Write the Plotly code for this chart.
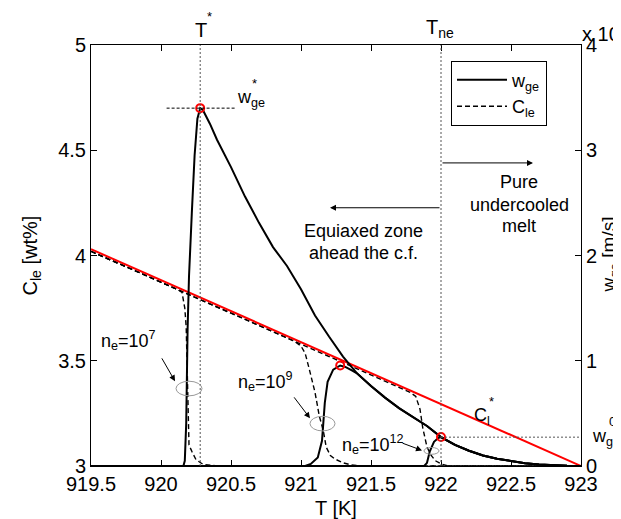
import plotly.graph_objects as go

# ---------------- data ----------------
# temperatures in K ; w_ge values in units of 1e-4 m/s ; C_le in wt%
# shared decay branch of w_ge (envelope)
decay_T = [920.28, 920.30, 920.35, 920.40, 920.50, 920.60, 920.70, 920.80, 920.90,
           921.00, 921.10, 921.20, 921.30, 921.40, 921.50, 921.60, 921.70, 921.80,
           921.90, 922.00, 922.10, 922.20, 922.30, 922.40, 922.50, 922.60, 922.70,
           922.80, 922.90, 923.00]
decay_w = [3.40, 3.38, 3.25, 3.10, 2.84, 2.56, 2.31, 2.08, 1.90,
           1.68, 1.43, 1.23, 1.04, 0.88, 0.76, 0.65, 0.55, 0.465,
           0.38, 0.275, 0.20, 0.145, 0.10, 0.068, 0.044, 0.027, 0.015,
           0.007, 0.002, 0.0]

# n_e = 1e7 : rising branch of w_ge
rise7_T = [919.5, 920.16, 920.17, 920.18, 920.19, 920.20, 920.22, 920.24, 920.26]
rise7_w = [0.0, 0.0, 0.05, 0.40, 1.30, 1.80, 2.40, 2.95, 3.30]
# n_e = 1e9 : rising branch of w_ge (joins envelope at ~921.4)
rise9_T = [919.5, 921.03, 921.07, 921.12, 921.15, 921.16, 921.17, 921.19, 921.23,
           921.28, 921.32, 921.36]
rise9_w = [0.0, 0.0, 0.02, 0.08, 0.24, 0.45, 0.60, 0.80, 0.915,
           0.955, 0.94, 0.91]
# n_e = 1e12 : rising branch of w_ge (joins envelope at T_ne)
rise12_T = [919.5, 921.88, 921.90, 921.92, 921.95, 921.98]
rise12_w = [0.0, 0.0, 0.03, 0.14, 0.23, 0.265]

# C_le curves (dashed)
cle7_T = [919.5, 920.0, 920.12, 920.15, 920.17, 920.18, 920.185, 920.19, 920.195,
          920.20, 920.22, 920.25, 920.30, 920.40, 923.0]
cle7_C = [4.02, 3.873, 3.838, 3.825, 3.75, 3.66, 3.50, 3.30, 3.15,
          3.10, 3.07, 3.03, 3.008, 3.0, 3.0]
cle9_T = [919.5, 920.0, 920.5, 920.95, 921.0, 921.03, 921.06, 921.10, 921.13,
          921.16, 921.18, 921.21, 921.24, 921.30, 921.36, 921.45, 923.0]
cle9_C = [4.02, 3.873, 3.726, 3.594, 3.57, 3.535, 3.458, 3.35, 3.24,
          3.165, 3.09, 3.05, 3.034, 3.015, 3.005, 3.0, 3.0]
cle12_T = [919.5, 920.5, 921.5, 921.78, 921.82, 921.85, 921.87, 921.90, 921.93,
           921.96, 922.0, 922.05, 923.0]
cle12_C = [4.02, 3.726, 3.432, 3.35, 3.33, 3.27, 3.18, 3.09, 3.05,
           3.025, 3.01, 3.0, 3.0]

# equilibrium liquid concentration C_l*
cl_T = [919.5, 923.0]
cl_C = [4.03, 3.0]

# marked points (T, w_ge)
mark_T = [920.28, 921.28, 922.0]
mark_w = [3.40, 0.955, 0.275]

T_star = 920.28
T_ne = 922.0
w_star_C = 4.70
w0_C = 3.137

x_ticks = [919.5, 920, 920.5, 921, 921.5, 922, 922.5, 923]
x_ticktext = ["919.5", "920", "920.5", "921", "921.5", "922", "922.5", "923"]
yl_ticks = [3, 3.5, 4, 4.5, 5]
yl_ticktext = ["3", "3.5", "4", "4.5", "5"]
yr_ticks = [0, 1, 2, 3, 4]
yr_ticktext = ["0", "1", "2", "3", "4"]

# ---------------- figure ----------------
W, H = 621, 519
L, R, TOP, BOT = 83, 573, 37, 469
FONT = "Liberation Sans, Arial, sans-serif"


def X(px):
    return 919.5 + (px - L) / (R - L) * 3.5


def Y(py):
    return 5 - (py - TOP) / (BOT - TOP) * 2


def PX(px):
    return (px - L) / (R - L)


def PY(py):
    return (BOT - py) / (BOT - TOP)


fig = go.Figure()

dash_style = dict(color="black", width=1.4, dash="5px,3px")
for i, (tt, cc) in enumerate([(cle7_T, cle7_C), (cle9_T, cle9_C), (cle12_T, cle12_C)]):
    fig.add_trace(go.Scatter(x=tt, y=cc, mode="lines", line=dash_style,
                             name="C<sub>le</sub>", showlegend=False, yaxis="y"))

fig.add_trace(go.Scatter(x=cl_T, y=cl_C, mode="lines", line=dict(color="red", width=2),
                         showlegend=False, yaxis="y"))

solid = dict(color="black", width=2)
w7_T = rise7_T + decay_T
w7_w = rise7_w + decay_w
w9_T = rise9_T + [t for t in decay_T if t >= 921.4]
w9_w = rise9_w + [w for t, w in zip(decay_T, decay_w) if t >= 921.4]
w12_T = rise12_T + [t for t in decay_T if t >= 922.0]
w12_w = rise12_w + [w for t, w in zip(decay_T, decay_w) if t >= 922.0]
for i, (tt, ww) in enumerate([(w7_T, w7_w), (w9_T, w9_w), (w12_T, w12_w)]):
    fig.add_trace(go.Scatter(x=tt, y=ww, mode="lines", line=solid,
                             name="w<sub>ge</sub>", showlegend=(i == 0), yaxis="y2",
                             legendrank=1))

# legend entry for dashed
fig.add_trace(go.Scatter(x=[None], y=[None], mode="lines", line=dash_style,
                         name="C<sub>le</sub>", showlegend=True, yaxis="y", legendrank=2))

fig.add_trace(go.Scatter(x=mark_T, y=mark_w, mode="markers", yaxis="y2", showlegend=False,
                         marker=dict(symbol="circle-open", size=8, color="red",
                                     line=dict(color="red", width=2))))

# reference lines
dot = dict(color="#555555", width=1, dash="2px,2px")
shapes = [
    dict(type="line", xref="x", yref="paper", x0=T_star, x1=T_star, y0=0, y1=1, line=dot),
    dict(type="line", xref="x", yref="paper", x0=T_ne, x1=T_ne, y0=0, y1=1, line=dot),
    dict(type="line", xref="x", yref="y", x0=T_ne, x1=923, y0=w0_C, y1=w0_C, line=dot),
    dict(type="line", xref="x", yref="y", x0=920.04, x1=920.53, y0=w_star_C, y1=w_star_C,
         line=dict(color="black", width=1, dash="3px,2px")),
    # ellipses marking the three n_e cases
    dict(type="circle", xref="x", yref="y", x0=X(168), x1=X(194), y0=Y(397), y1=Y(382),
         line=dict(color="#999999", width=1)),
    dict(type="circle", xref="x", yref="y", x0=X(302), x1=X(327), y0=Y(433), y1=Y(418),
         line=dict(color="#999999", width=1)),
    dict(type="circle", xref="x", yref="y", x0=X(416), x1=X(431), y0=Y(457), y1=Y(450),
         line=dict(color="#999999", width=1)),
]

TXT = dict(family=FONT, size=18, color="black")
TXT20 = dict(family=FONT, size=20, color="black")
STAR = dict(family=FONT, size=13, color="black")
ann = []


def text(px, py, s, font=TXT, xanchor="center", yanchor="middle", angle=0):
    ann.append(dict(xref="paper", yref="paper", x=PX(px), y=PY(py), text=s, showarrow=False,
                    font=font, xanchor=xanchor, yanchor=yanchor, textangle=angle,
                    borderpad=0))


def arrow(px0, py0, px1, py1):
    ann.append(dict(xref="x", yref="y", axref="x", ayref="y", x=X(px1), y=Y(py1),
                    ax=X(px0), ay=Y(py0), text="", showarrow=True, arrowhead=2,
                    arrowsize=1.2, arrowwidth=1, arrowcolor="black"))


# axis titles
text(23, 253, "C<sub>le</sub> [wt%]", TXT20, angle=-90)
text(602, 252, "w<sub>ge</sub> [m/s]", dict(family=FONT, size=19, color="black"), angle=-90)

text(193, 22, "T", TXT20)
text(201, 8, "*", STAR)
text(432, 20, "T<sub>ne</sub>", TXT20)
text(573, 24, "x 10<sup>-4</sup>", TXT20, xanchor="left")
text(228, 92, "w<sub>ge</sub>", TXT, xanchor="left")
text(246, 76, "*", STAR)
text(511, 178, "Pure", TXT)
text(511, 201, "undercooled", TXT)
text(511, 223, "melt", TXT)
text(355, 228, "Equiaxed zone", TXT)
text(355, 250, "ahead the c.f.", TXT)
text(465, 418, "C<sub>l</sub>", TXT, xanchor="left")
text(483, 403, "*", STAR)
text(583, 440, "w<sub>ge</sub>", TXT, xanchor="left")
text(604, 423, "0", STAR)
text(92, 340, "n<sub>e</sub>=10<sup>7</sup>", TXT, xanchor="left")
text(229, 382, "n<sub>e</sub>=10<sup>9</sup>", TXT, xanchor="left")
text(333, 447, "n<sub>e</sub>=10<sup>12</sup>", TXT, xanchor="left")

arrow(433, 158, 525, 158)
arrow(433, 204, 322, 204)
arrow(153, 357, 167, 382)
arrow(285, 397, 302, 420)
arrow(393, 445, 414, 453)

axis_common = dict(showgrid=False, zeroline=False, ticks="inside", ticklen=6,
                   tickcolor="black", showline=True, linecolor="black", linewidth=1,
                   tickfont=TXT20)

fig.update_layout(
    width=W, height=H,
    margin=dict(l=L, r=W - R, t=TOP, b=H - BOT),
    paper_bgcolor="white", plot_bgcolor="white",
    font=dict(family=FONT, color="black"),
    xaxis=dict(range=[919.5, 923], tickvals=x_ticks, ticktext=x_ticktext, mirror="ticks",
               title=dict(text="T [K]", font=TXT20, standoff=6), **axis_common),
    yaxis=dict(range=[3, 5], tickvals=yl_ticks, ticktext=yl_ticktext, mirror=False,
               ticklabelstandoff=0, **axis_common),
    yaxis2=dict(range=[0, 4], tickvals=yr_ticks, ticktext=yr_ticktext, overlaying="y",
                side="right", ticklabelstandoff=0, **axis_common),
    legend=dict(x=PX(443), y=PY(53), xanchor="left", yanchor="top", bgcolor="white",
                bordercolor="black", borderwidth=1, font=TXT, itemwidth=50,
                tracegroupgap=0),
    shapes=shapes,
    annotations=ann,
    showlegend=True,
)

fig.write_html("out.html")
